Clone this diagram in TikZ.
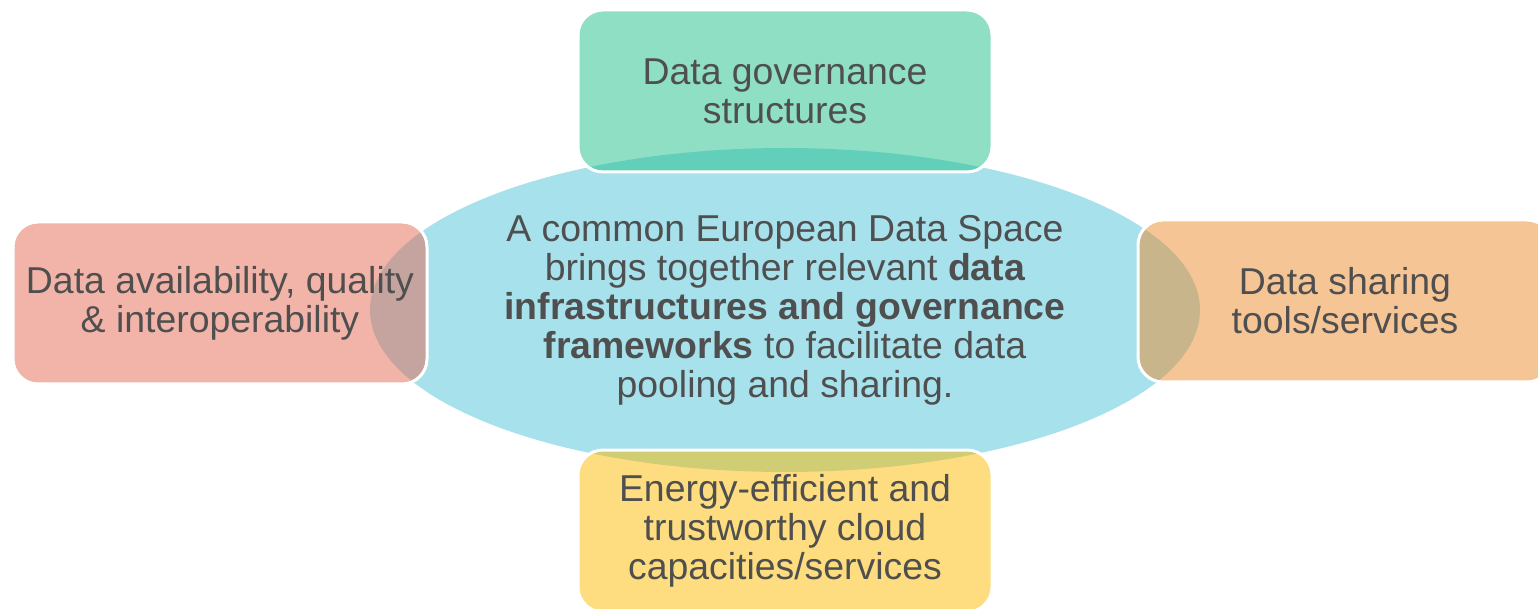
\documentclass[tikz,border=0pt]{standalone}
\usepackage{fontspec}
\setmainfont{Liberation Sans}
\usetikzlibrary{shapes.geometric}
\definecolor{hubblue}{HTML}{A6E1EC}
\definecolor{govgreen}{HTML}{1FBF8B}
\definecolor{availred}{HTML}{E56953}
\definecolor{shareorange}{HTML}{EB8B2D}
\definecolor{cloudyellow}{HTML}{FBBB00}
\definecolor{txtgray}{HTML}{4F4F4F}
\newcommand{\boxfont}{\fontsize{18.7}{19.5}\selectfont}
\tikzset{part/.style={rectangle,rounded corners=12.5pt,draw=white,line width=1.5pt,
  fill opacity=0.5,text opacity=1,minimum width=207pt,minimum height=81pt,
  align=center,text=txtgray,font=\boxfont}}

\begin{document}
\begin{tikzpicture}[x=0.5pt,y=-0.5pt]
\useasboundingbox (0,0) rectangle (1538,609);
\clip (0,0) rectangle (1538,609);
\node[ellipse,fill=hubblue,inner sep=0pt,minimum width=415pt,minimum height=162pt,
  align=center,text=txtgray,font=\boxfont] (hub) at (785,310)
  {A common European Data Space\\ brings together relevant \textbf{data}\\
   \textbf{infrastructures and governance}\\ \textbf{frameworks} to facilitate data\\
   pooling and sharing.};
\node[part,fill=govgreen] (gov) at (785,91) {Data governance\\ structures};
\node[part,fill=availred] (avail) at (220,303) {Data availability, quality\\ \& interoperability};
\node[part,fill=shareorange] (share) at (1345,301) {Data sharing\\ tools/services};
\node[part,fill=cloudyellow] (cloud) at (785,531) {Energy-efficient and\\ trustworthy cloud\\ capacities/services};
\end{tikzpicture}
\end{document}
